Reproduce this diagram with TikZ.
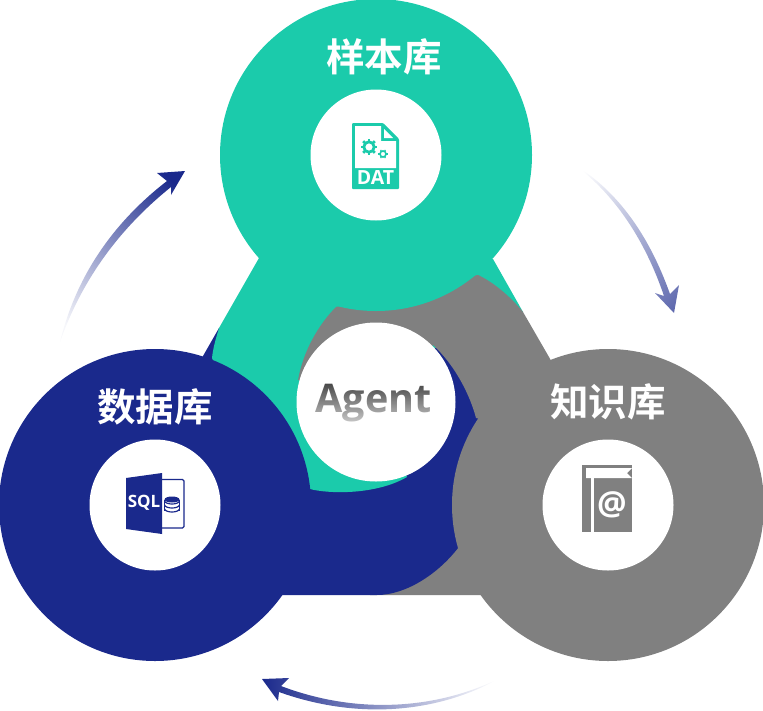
\documentclass[tikz,border=0pt]{standalone}
\usepackage{fontspec}
\newfontfamily\cjkfont[BoldFont={Noto Sans CJK SC Bold}]{Noto Sans CJK SC}
\newfontfamily\latinfont{Open Sans}
\usetikzlibrary{positioning, fadings}
\definecolor{tealfill}{HTML}{1BCBAB}
\definecolor{navyfill}{HTML}{1A298C}
\definecolor{grayfill}{HTML}{808080}
\pgfdeclareverticalshading{flowshade}{100bp}{color(0bp)=(white); color(20bp)=(white!96!navyfill); color(80bp)=(navyfill); color(100bp)=(navyfill)}
\pgfdeclareverticalshading{paleshade}{100bp}{color(0bp)=(white); color(18bp)=(white); color(85bp)=(navyfill!72); color(100bp)=(navyfill!72)}
\pgfdeclareverticalshading{wideshade}{100bp}{color(0bp)=(white); color(26bp)=(white); color(75bp)=(navyfill); color(100bp)=(navyfill)}

\begin{document}
\begin{tikzpicture}
    [x=1pt, y=-1pt,
    lobenode/.style={circle, inner sep=0pt, minimum size=312pt},
    discnode/.style={circle, fill=white, inner sep=0pt, minimum size=131pt},
    titlenode/.style={text=white, inner sep=0pt, font=\cjkfont\bfseries\fontsize{38.5}{38.5}\selectfont},
    iconnode/.style={inner sep=0pt, font=\latinfont\bfseries\fontsize{17}{17}\selectfont},]

    \useasboundingbox (0,0) rectangle (763,710);

    %Necks
    \fill[grayfill] (370,595) -- (483,595) -- (520,560) -- (430,520) -- cycle;
    \fill[navyfill] (281,595) -- (377,595) .. controls (405,595) and (437,575) .. (458,548) -- (500,480)
        -- (490,400) -- (420,330) -- (300,400) -- (240,340) -- (219,328) -- (203,356) -- (150,500) -- cycle;
    \fill[tealfill] (259,258) -- (219,328) .. controls (216,338) and (213,348) .. (212,358) -- (250,450)
        -- (310,489) .. controls (329,494) and (376,495) .. (407,477) -- (376,402) -- (430,350)
        -- (523,312) -- (493,259) -- cycle;
    \fill[grayfill] (478,275) .. controls (493,282) and (510,296) .. (523,312) -- (549,357) -- (600,450)
        -- (476,418) .. controls (470,395) and (455,365) .. (433,345) -- (376,402) -- (298,380)
        .. controls (303,352) and (318,325) .. (336,307) -- (400,290) -- cycle;

    %Nodes
    \node[lobenode, fill=tealfill] (sample) at (376,155) {};
    \node[lobenode, fill=navyfill] (data) at (155,505) {};
    \node[lobenode, fill=grayfill] (know) at (608,505) {};
    \node[discnode] (sampledisc) at (sample) {};
    \node[discnode] (datadisc) at (data) {};
    \node[discnode] (knowdisc) at (know) {};
    \node[discnode, minimum size=159pt] (agentdisc) at (376,402) {};
    \node[titlenode] (sampletitle) at (384,57) {样本库};
    \node[titlenode] (datatitle) at (155,407) {数据库};
    \node[titlenode] (knowtitle) at (608,402) {知识库};

    %Agent label
    \node[inner sep=0pt, text=black!72, font=\latinfont\bfseries\fontsize{39.5}{39.5}\selectfont] (agent) at (373.5,403) {Agent};
    \fill[white, fill opacity=.8, path fading=north] (310,383) rectangle (436,428);

    %DAT icon
    \fill[tealfill, rounded corners=1pt] (352,123) -- (383,123) -- (399,139) -- (399,189) -- (352,189) -- cycle;
    \fill[white] (355,126) -- (381,126) -- (381,141) -- (396,141) -- (396,168) -- (355,168) -- cycle;
    \fill[white] (384,129) -- (384,138) -- (393,138) -- cycle;
    \draw[tealfill, line width=2.8pt] (369,147) circle (5.2);
    \foreach \a in {0,45,...,315}
        \draw[tealfill, line width=2.6pt] (369,147) ++(\a:6) -- ++(\a:2.3);
    \draw[tealfill, line width=1.6pt] (383,154) circle (3);
    \foreach \a in {0,60,...,300}
        \draw[tealfill, line width=1.1pt] (383,154) ++(\a:3.4) -- ++(\a:1.3);
    \node[iconnode, text=white, font=\latinfont\bfseries\fontsize{19.5}{19.5}\selectfont] (dattext) at (375.5,178) {DAT};

    %SQL icon
    \draw[navyfill, line width=1.3pt, rounded corners=1.5pt] (162,479.5) -- (184,479.5) -- (184,528) -- (162,528);
    \fill[navyfill] (126,478) -- (162,473) -- (162,534) -- (126,529) -- cycle;
    \node[iconnode, text=white] (sqltext) at (144,503) {SQL};
    \fill[navyfill] (172,499.5) ellipse (7.5 and 3);
    \foreach \y in {501,505,509}
        \draw[navyfill, line width=1.2pt] (164.5,\y) .. controls (166,\y+4) and (178,\y+4) .. (179.5,\y);
    \draw[navyfill, line width=1.2pt] (164.5,499.5) -- (164.5,511) (179.5,499.5) -- (179.5,511);

    %Book icon
    \fill[grayfill] (582,465) rectangle (632,532);
    \fill[white] (586,468) -- (632,468) -- (627,473) -- (632,478) -- (586,478) -- cycle;
    \fill[white] (591,478) rectangle (594,532);
    \node[iconnode, text=white, font=\latinfont\bfseries\fontsize{33}{33}\selectfont] (attext) at (612,505) {@};

    %Arrows
    \shade[shading=flowshade, shading angle=-45] (60,342) .. controls (75,280) and (110,225) .. (167,181) -- (157,173)
        -- (185,171) -- (171,195) -- (171,187) .. controls (115,232) and (80,285) .. (60,342) -- cycle;
    \shade[shading=paleshade, shading angle=-135] (575,165) .. controls (615,195) and (645,240) .. (664,296) -- (655,293)
        -- (674,313) -- (679,285) -- (670,294) .. controls (650,238) and (620,193) .. (575,165) -- cycle;
    \shade[shading=wideshade, shading angle=90] (500,678) .. controls (440,708) and (360,716) .. (281,686) -- (289,678)
        -- (262,679) -- (278,701) -- (279,692) .. controls (360,721) and (440,712) .. (500,678) -- cycle;
\end{tikzpicture}
\end{document}
